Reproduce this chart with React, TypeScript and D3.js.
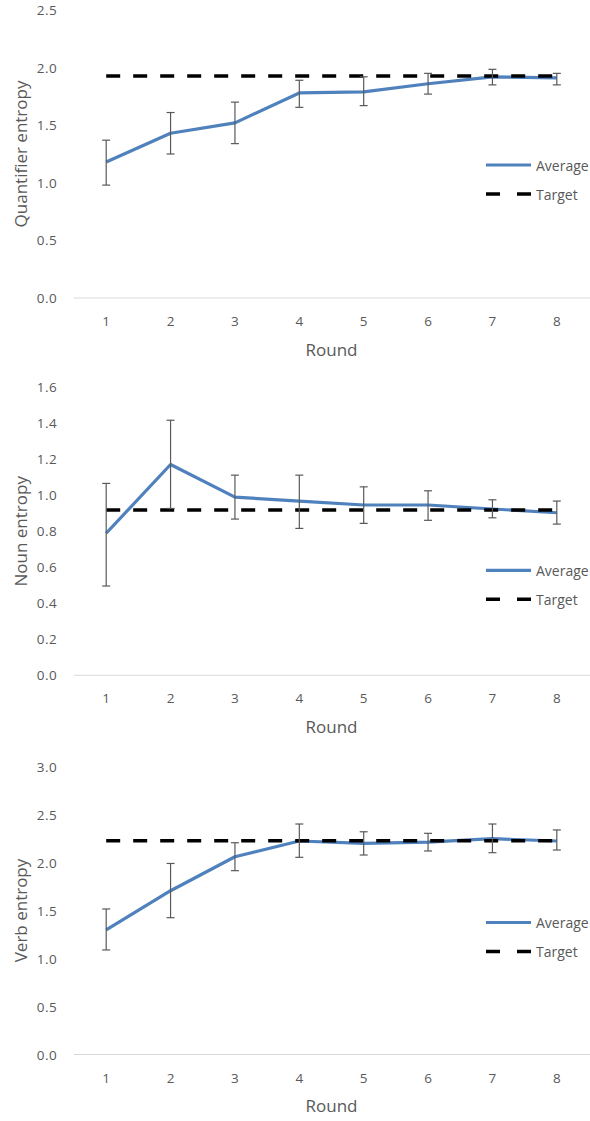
import React, { useEffect } from "react";
import * as d3 from "d3";

const rounds = [1, 2, 3, 4, 5, 6, 7, 8];

const quantAvg = [1.18, 1.43, 1.52, 1.78, 1.79, 1.86, 1.92, 1.91];
const quantHi = [1.37, 1.61, 1.70, 1.89, 1.92, 1.95, 1.985, 1.95];
const quantLo = [0.98, 1.25, 1.34, 1.655, 1.67, 1.77, 1.85, 1.85];
const quantTarget = 1.927;

const nounAvg = [0.789, 1.171, 0.99, 0.968, 0.946, 0.946, 0.924, 0.903];
const nounHi = [1.066, 1.417, 1.112, 1.112, 1.047, 1.025, 0.975, 0.968];
const nounLo = [0.496, 0.927, 0.868, 0.816, 0.844, 0.861, 0.875, 0.84];
const nounTarget = 0.918;

const verbAvg = [1.297, 1.706, 2.06, 2.224, 2.2, 2.213, 2.248, 2.224];
const verbHi = [1.516, 1.99, 2.206, 2.401, 2.32, 2.304, 2.401, 2.339];
const verbLo = [1.089, 1.425, 1.915, 2.054, 2.078, 2.12, 2.102, 2.13];
const verbTarget = 2.227;

const quantTicks = [0, 0.5, 1.0, 1.5, 2.0, 2.5];
const nounTicks = [0, 0.2, 0.4, 0.6, 0.8, 1.0, 1.2, 1.4, 1.6];
const verbTicks = [0, 0.5, 1.0, 1.5, 2.0, 2.5, 3.0];

const yTitles = ["Quantifier entropy", "Noun entropy", "Verb entropy"];
const xTitle = "Round";
const legendLabels = ["Average", "Target"];

const FONT = "'Open Sans', sans-serif";
const BLUE = "#4F81BD";
const TEXT = "#595959";

const W = 590;
const H = 1121;
const plotLeft = 74;
const plotRight = 589;
const plotH = 288;

const panels = [
  { top: 10, avg: quantAvg, hi: quantHi, lo: quantLo, target: quantTarget, ticks: quantTicks, legendDy: 155 },
  { top: 387.3, avg: nounAvg, hi: nounHi, lo: nounLo, target: nounTarget, ticks: nounTicks, legendDy: 183 },
  { top: 766.5, avg: verbAvg, hi: verbHi, lo: verbLo, target: verbTarget, ticks: verbTicks, legendDy: 156 },
];

function Panel({ p, title }: { p: any; title: string }) {
  const x = d3.scaleBand<number>().domain(rounds).range([plotLeft, plotRight]).padding(0);
  const cx = (r: number) => (x(r) as number) + x.bandwidth() / 2;
  const yMax = p.ticks[p.ticks.length - 1];
  const y = d3.scaleLinear().domain([0, yMax]).range([p.top + plotH, p.top]);
  const line = d3
    .line<number>()
    .x((_, i) => cx(rounds[i]))
    .y((v) => y(v));
  const bottom = p.top + plotH;
  const legY = p.top + p.legendDy;
  const fmt = d3.format(".1f");
  return (
    <g>
      {p.ticks.map((t: number) => (
        <text
          key={t}
          x={57}
          y={y(t)}
          textAnchor="end"
          dominantBaseline="central"
          fontFamily={FONT}
          fontSize={13.5}
          fill={TEXT}
          letterSpacing={0.4}
        >
          {fmt(t)}
        </text>
      ))}
      <line x1={plotLeft} x2={W} y1={bottom} y2={bottom} stroke="#D9D9D9" strokeWidth={1} />
      {rounds.map((r) => (
        <text
          key={r}
          x={cx(r)}
          y={bottom + 23}
          textAnchor="middle"
          dominantBaseline="central"
          fontFamily={FONT}
          fontSize={13.5}
          fill={TEXT}
        >
          {r}
        </text>
      ))}
      <text
        x={(plotLeft + plotRight) / 2}
        y={bottom + 51}
        textAnchor="middle"
        dominantBaseline="central"
        fontFamily={FONT}
        fontSize={17}
        fill={TEXT}
      >
        {xTitle}
      </text>
      <text
        transform={`translate(20,${p.top + plotH / 2}) rotate(-90)`}
        textAnchor="middle"
        dominantBaseline="central"
        fontFamily={FONT}
        fontSize={17}
        fill={TEXT}
      >
        {title}
      </text>
      <path d={line(p.avg) as string} fill="none" stroke={BLUE} strokeWidth={3.2} strokeLinejoin="round" />
      <line
        x1={cx(rounds[0])}
        x2={cx(rounds[rounds.length - 1])}
        y1={y(p.target)}
        y2={y(p.target)}
        stroke="#000"
        strokeWidth={3.5}
        strokeDasharray="14 13"
      />
      {rounds.map((r, i) => (
        <g key={r} stroke="#595959" strokeWidth={1.2}>
          <line x1={cx(r)} x2={cx(r)} y1={y(p.hi[i])} y2={y(p.lo[i])} />
          <line x1={cx(r) - 4} x2={cx(r) + 4} y1={y(p.hi[i])} y2={y(p.hi[i])} />
          <line x1={cx(r) - 4} x2={cx(r) + 4} y1={y(p.lo[i])} y2={y(p.lo[i])} />
        </g>
      ))}
      <line x1={486} x2={531} y1={legY} y2={legY} stroke={BLUE} strokeWidth={3.2} />
      <text x={536} y={legY} dominantBaseline="central" fontFamily={FONT} fontSize={14} fill={TEXT}>
        {legendLabels[0]}
      </text>
      <line
        x1={486}
        x2={531}
        y1={legY + 29}
        y2={legY + 29}
        stroke="#000"
        strokeWidth={3.5}
        strokeDasharray="14 17"
      />
      <text x={536} y={legY + 29} dominantBaseline="central" fontFamily={FONT} fontSize={14} fill={TEXT}>
        {legendLabels[1]}
      </text>
    </g>
  );
}

export default function App() {
  useEffect(() => {
    document.body.style.margin = "0";
  }, []);
  return (
    <svg width={W} height={H} style={{ display: "block", background: "#fff" }}>
      {panels.map((p, i) => (
        <Panel key={i} p={p} title={yTitles[i]} />
      ))}
    </svg>
  );
}
